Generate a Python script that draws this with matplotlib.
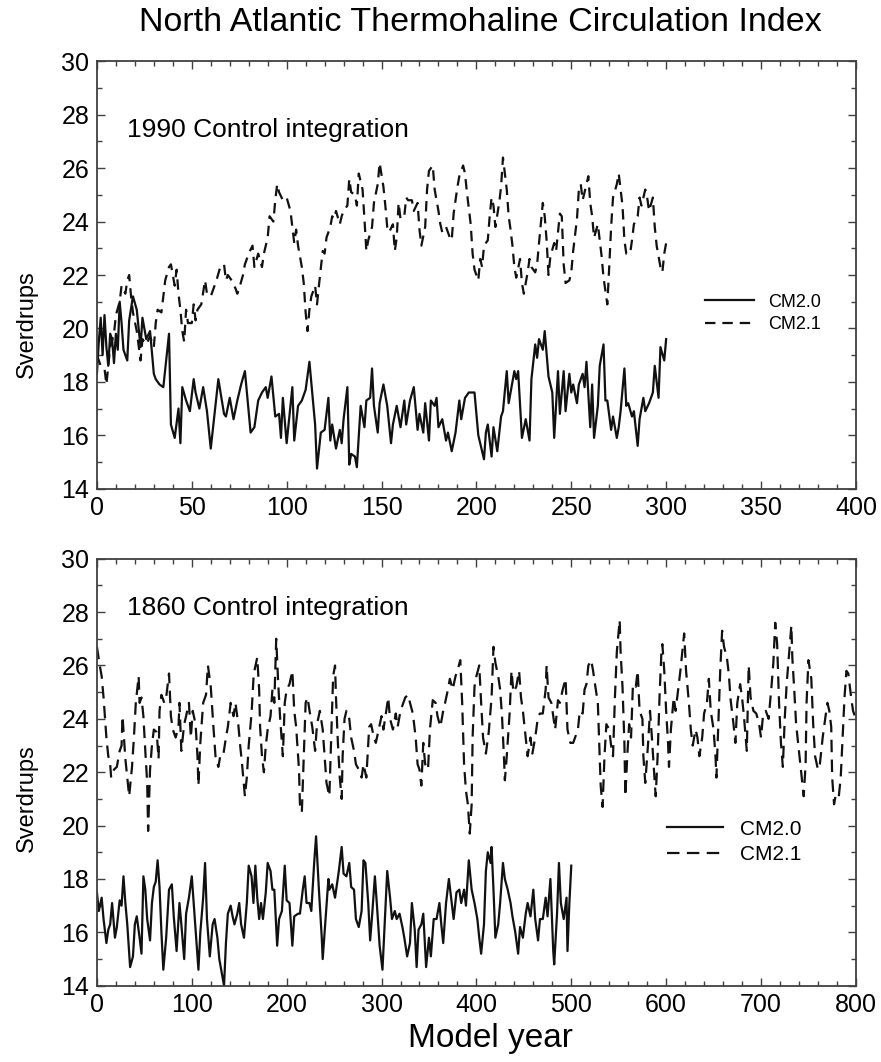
# North Atlantic thermohaline circulation index, two control runs (CM2.0 vs CM2.1)
import matplotlib

matplotlib.use("Agg")
import matplotlib.pyplot as plt
from matplotlib.ticker import MultipleLocator

plt.rcParams["font.family"] = ["Liberation Sans", "DejaVu Sans"]
plt.rcParams["lines.scale_dashes"] = False

# ---- 1990 control integration (upper panel) ----
years_1990_cm20 = [
    0, 1, 2, 3, 4, 5, 6, 7, 8, 9, 10, 11, 12, 13, 14, 15, 16, 17, 19, 21, 23, 24, 26, 28, 30,
    31, 33, 35, 38, 39, 41, 43, 44, 45, 47, 49, 51, 52, 54, 56, 58, 60, 64, 67, 68, 70, 72,
    74, 76, 78, 81, 83, 85, 87, 89, 90, 92, 94, 96, 97, 98, 100, 103, 104, 106, 108, 110,
    112, 114, 115, 116, 118, 120, 122, 123, 124, 126, 128, 129, 130, 132, 133, 134, 136,
    137, 139, 141, 142, 144, 145, 146, 148, 149, 151, 153, 155, 156, 158, 160, 162, 163,
    165, 167, 169, 170, 172, 173, 175, 176, 178, 179, 180, 182, 184, 185, 187, 189, 191,
    192, 194, 196, 199, 201, 202, 204, 205, 206, 208, 209, 211, 213, 214, 216, 217, 218,
    220, 221, 222, 224, 226, 228, 229, 231, 232, 233, 235, 236, 238, 240, 241, 243, 244,
    246, 247, 249, 250, 251, 253, 254, 256, 257, 258, 260, 261, 262, 264, 265, 267, 268,
    269, 271, 272, 274, 275, 276, 278, 279, 280, 282, 283, 285, 286, 288, 289, 291, 293,
    294, 296, 297, 299, 300,
]
sv_1990_cm20 = [
    18.3, 19.5, 20.4, 19.0, 20.5, 19.3, 18.6, 19.8, 19.6, 18.7, 19.8, 19.2, 21.0, 20.2, 19.2,
    19.0, 18.8, 20.3, 21.2, 20.7, 19.3, 20.4, 19.6, 19.9, 18.3, 18.1, 17.9, 17.8, 19.8, 16.4,
    15.9, 17.0, 15.7, 17.8, 17.3, 16.9, 18.1, 17.6, 17.0, 17.8, 16.9, 15.5, 18.1, 16.8, 16.7,
    17.4, 16.6, 17.3, 17.9, 18.4, 16.1, 16.3, 17.3, 17.6, 17.8, 17.4, 18.2, 16.7, 16.8, 15.9,
    17.4, 15.7, 17.8, 15.8, 17.1, 17.3, 17.7, 18.75, 17.2, 16.4, 14.75, 16.1, 16.2, 17.4,
    15.8, 16.4, 15.5, 16.2, 15.7, 16.6, 17.8, 14.9, 15.3, 15.2, 14.8, 17.1, 16.3, 17.3, 17.4,
    18.5, 17.1, 16.1, 17.2, 17.9, 17.1, 15.7, 16.4, 17.1, 16.3, 17.3, 16.4, 17.3, 17.8, 16.2,
    16.8, 16.1, 17.2, 15.8, 17.3, 17.1, 17.4, 16.3, 16.6, 15.8, 16.1, 15.4, 16.1, 17.3, 16.6,
    17.4, 17.6, 17.6, 16.0, 15.7, 15.1, 16.1, 16.4, 15.2, 16.3, 15.4, 16.7, 16.9, 18.4, 17.2,
    17.6, 18.4, 18.1, 18.4, 15.9, 16.6, 15.8, 18.1, 19.4, 18.9, 19.6, 19.2, 19.9, 18.2, 17.6,
    15.9, 18.4, 16.8, 18.4, 16.9, 18.3, 17.6, 17.9, 17.2, 17.9, 18.3, 17.8, 18.75, 16.3, 17.9,
    15.9, 17.1, 18.6, 19.4, 17.3, 17.3, 16.2, 16.7, 15.9, 16.3, 16.9, 18.5, 17.1, 17.2, 16.7,
    16.9, 15.6, 16.6, 17.4, 16.9, 17.2, 17.6, 18.6, 17.4, 19.3, 18.8, 19.6,
]

years_1990_cm21 = [
    0, 2, 4, 5, 7, 9, 10, 12, 13, 15, 16, 17, 18, 19, 21, 23, 24, 26, 28, 30, 31, 32, 34, 36,
    38, 39, 41, 42, 43, 44, 45, 46, 47, 48, 50, 51, 52, 53, 55, 57, 58, 60, 61, 63, 65, 67,
    68, 69, 71, 73, 74, 75, 77, 78, 80, 82, 83, 85, 87, 88, 90, 91, 93, 94, 95, 96, 98, 100,
    102, 103, 104, 105, 106, 108, 109, 110, 111, 112, 113, 115, 116, 117, 119, 120, 121,
    123, 124, 125, 126, 128, 129, 130, 132, 133, 134, 136, 137, 138, 140, 141, 142, 143,
    145, 146, 148, 149, 151, 152, 153, 154, 156, 157, 158, 159, 160, 162, 163, 164, 166,
    167, 169, 170, 171, 173, 174, 175, 177, 178, 180, 181, 182, 184, 186, 187, 188, 190,
    191, 193, 194, 195, 197, 198, 199, 201, 202, 203, 204, 206, 207, 208, 209, 210, 212,
    213, 214, 215, 216, 217, 218, 219, 220, 221, 223, 224, 225, 227, 228, 229, 231, 232,
    233, 235, 236, 237, 238, 239, 241, 242, 243, 244, 245, 246, 247, 249, 250, 251, 253,
    254, 255, 256, 257, 259, 260, 261, 262, 264, 265, 266, 267, 269, 270, 271, 272, 274,
    275, 276, 277, 278, 279, 281, 282, 283, 285, 286, 287, 289, 290, 291, 293, 294, 295,
    297, 298, 299, 300,
]
sv_1990_cm21 = [
    19.0, 18.6, 18.5, 17.9, 19.3, 19.8, 20.5, 21.0, 21.6, 21.3, 21.8, 22.0, 21.2, 20.6, 19.9,
    18.8, 19.6, 19.4, 19.7, 19.3, 20.2, 20.7, 20.6, 21.8, 22.3, 22.4, 21.6, 22.2, 21.3, 20.7,
    19.9, 19.5, 20.7, 20.2, 20.2, 20.9, 20.3, 20.7, 20.9, 21.8, 21.3, 21.2, 21.4, 21.8, 22.3,
    22.4, 21.8, 22.0, 21.8, 21.5, 21.3, 21.5, 22.0, 22.4, 22.8, 23.1, 22.3, 22.8, 22.3, 22.8,
    23.4, 24.2, 24.0, 24.8, 25.4, 25.1, 24.8, 24.9, 24.4, 23.8, 23.2, 23.7, 23.1, 22.3, 21.7,
    20.6, 19.9, 20.7, 21.2, 21.6, 20.9, 21.6, 22.9, 22.8, 23.4, 23.8, 24.2, 24.1, 24.4, 23.9,
    24.2, 24.4, 24.6, 25.6, 25.1, 25.0, 24.6, 25.8, 25.2, 24.1, 22.9, 23.3, 23.8, 24.7, 25.4,
    26.2, 25.3, 24.6, 23.8, 23.6, 23.9, 22.9, 23.4, 24.7, 24.1, 24.2, 24.9, 24.8, 24.8, 24.4,
    24.7, 23.7, 23.1, 23.8, 25.2, 25.9, 26.1, 25.2, 24.4, 23.9, 23.6, 23.8, 23.4, 23.3, 24.3,
    25.3, 25.7, 26.1, 25.8, 25.1, 23.9, 22.8, 22.2, 21.8, 22.6, 22.3, 23.1, 23.3, 24.2, 24.9,
    24.6, 23.8, 24.7, 25.3, 26.4, 25.8, 25.2, 24.2, 23.7, 23.1, 22.3, 21.9, 22.6, 21.7, 21.3,
    22.1, 22.6, 22.3, 22.1, 22.4, 23.2, 24.7, 24.2, 23.3, 22.0, 22.7, 23.2, 22.9, 23.6, 24.3,
    24.2, 22.4, 21.7, 21.8, 22.1, 22.9, 24.1, 25.2, 25.4, 24.8, 25.1, 25.7, 24.7, 24.2, 23.4,
    23.9, 23.3, 22.7, 21.9, 20.9, 22.3, 23.8, 24.9, 25.4, 25.8, 25.2, 24.6, 23.3, 22.8, 22.8,
    23.3, 23.9, 24.2, 24.9, 24.6, 25.2, 24.9, 24.4, 24.9, 23.8, 23.1, 22.3, 22.1, 22.8, 23.2,
]

# ---- 1860 control integration (lower panel) ----
years_1860_cm20 = [
    0, 2, 5, 7, 10, 12, 14, 16, 19, 21, 24, 26, 28, 30, 32, 35, 38, 40, 42, 45, 47, 49, 51,
    53, 56, 58, 60, 62, 64, 66, 68, 70, 73, 76, 79, 81, 84, 87, 89, 92, 94, 97, 100, 102,
    104, 107, 109, 112, 114, 116, 119, 122, 124, 127, 129, 131, 134, 136, 138, 141, 143,
    145, 148, 150, 152, 155, 158, 160, 163, 165, 167, 169, 171, 173, 175, 178, 180, 183,
    185, 187, 190, 192, 195, 198, 200, 203, 206, 208, 212, 214, 217, 219, 221, 224, 226,
    229, 231, 234, 237, 238, 241, 244, 245, 248, 251, 253, 255, 258, 260, 263, 266, 268,
    271, 273, 276, 279, 281, 283, 286, 288, 290, 293, 295, 298, 301, 303, 306, 309, 311,
    314, 316, 319, 322, 324, 327, 330, 332, 335, 337, 339, 342, 344, 347, 350, 352, 355,
    358, 361, 363, 365, 368, 371, 374, 376, 379, 382, 384, 387, 389, 392, 395, 398, 401,
    403, 405, 408, 410, 412, 415, 416, 418, 420, 423, 425, 428, 430, 433, 436, 438, 441,
    444, 446, 449, 452, 454, 457, 460, 462, 465, 467, 470, 473, 475, 478, 481, 482, 485,
    487, 489, 492, 495, 496, 498, 500,
]
sv_1860_cm20 = [
    17.5, 16.8, 17.3, 16.5, 15.6, 16.1, 16.3, 17.1, 15.8, 16.2, 17.2, 17.0, 18.1, 17.1, 16.3,
    14.7, 15.1, 16.3, 16.6, 15.8, 15.2, 18.1, 17.6, 16.5, 15.7, 17.1, 17.7, 17.9, 18.7, 17.7,
    16.0, 14.6, 15.8, 17.6, 17.8, 16.6, 15.3, 17.1, 16.3, 15.0, 16.7, 17.3, 18.1, 17.1, 16.1,
    14.6, 16.0, 17.3, 18.6, 16.5, 15.1, 16.3, 16.5, 15.8, 15.0, 14.6, 14.0, 15.6, 16.7, 17.0,
    16.6, 16.3, 16.7, 17.1, 16.3, 15.8, 17.1, 18.5, 18.1, 17.1, 18.5, 17.3, 16.5, 17.1, 16.5,
    17.5, 18.6, 18.3, 17.6, 17.6, 15.5, 16.5, 16.8, 18.5, 17.2, 17.1, 15.5, 16.6, 16.7, 16.7,
    17.6, 18.1, 17.1, 17.1, 16.8, 18.6, 19.6, 17.6, 15.8, 15.0, 16.5, 18.0, 17.6, 17.8, 17.3,
    17.8, 18.3, 19.2, 18.2, 18.1, 18.6, 17.7, 17.6, 16.5, 16.2, 16.8, 18.7, 18.6, 17.1, 15.7,
    16.6, 18.1, 17.1, 15.5, 14.6, 16.1, 18.3, 17.3, 16.5, 16.8, 16.5, 16.7, 16.2, 15.8, 15.1,
    15.6, 17.1, 16.1, 14.7, 16.1, 16.3, 16.7, 14.7, 15.8, 15.1, 16.5, 16.5, 17.1, 16.3, 15.6,
    17.1, 18.0, 17.1, 16.5, 17.5, 17.6, 17.1, 17.6, 17.0, 18.7, 17.6, 17.1, 16.5, 15.8, 15.2,
    16.3, 18.3, 19.0, 18.6, 19.2, 17.6, 15.8, 16.3, 17.1, 18.6, 18.0, 17.6, 17.1, 16.6, 16.0,
    15.2, 16.2, 15.8, 16.7, 17.1, 16.6, 17.6, 16.5, 15.7, 16.5, 16.5, 17.3, 16.6, 18.0, 15.3,
    14.8, 16.7, 18.6, 17.1, 16.5, 17.3, 15.3, 17.1, 18.5,
]

years_1860_cm21 = [
    0, 3, 5, 7, 8, 10, 12, 14, 15, 18, 21, 24, 26, 27, 30, 32, 34, 37, 39, 41, 44, 45, 47,
    49, 51, 53, 54, 56, 58, 60, 63, 65, 66, 68, 71, 73, 76, 78, 80, 83, 86, 87, 89, 92, 94,
    97, 99, 101, 104, 106, 107, 109, 112, 115, 117, 120, 123, 125, 128, 130, 133, 136, 138,
    141, 144, 146, 149, 151, 153, 156, 158, 160, 163, 165, 166, 169, 171, 172, 174, 176,
    178, 180, 183, 185, 187, 189, 191, 193, 196, 198, 200, 203, 206, 208, 210, 213, 214,
    216, 218, 220, 222, 225, 227, 230, 232, 235, 238, 240, 242, 245, 247, 249, 251, 252,
    254, 256, 258, 259, 261, 263, 266, 268, 271, 273, 276, 279, 281, 284, 287, 289, 292,
    294, 297, 300, 302, 305, 307, 309, 312, 315, 317, 320, 323, 325, 328, 330, 333, 336,
    338, 340, 342, 344, 346, 349, 351, 354, 357, 359, 362, 365, 367, 370, 372, 375, 378,
    380, 383, 385, 387, 389, 391, 393, 395, 396, 398, 400, 403, 405, 407, 410, 413, 416,
    418, 420, 423, 425, 427, 429, 430, 432, 435, 437, 439, 442, 445, 447, 449, 452, 454,
    457, 459, 462, 465, 467, 470, 473, 474, 476, 479, 481, 483, 486, 488, 491, 494, 496,
    499, 502, 504, 507, 509, 512, 514, 516, 518, 521, 523, 525, 528, 530, 531, 533, 535,
    537, 540, 542, 544, 546, 548, 551, 552, 554, 556, 557, 559, 561, 563, 565, 568, 570,
    572, 575, 576, 578, 581, 583, 585, 588, 589, 591, 593, 595, 596, 598, 600, 602, 603,
    605, 608, 610, 612, 615, 617, 619, 621, 624, 626, 628, 631, 633, 635, 638, 640, 643,
    645, 647, 650, 652, 653, 655, 657, 659, 661, 664, 666, 668, 671, 673, 675, 678, 680,
    682, 685, 687, 689, 692, 695, 698, 700, 702, 705, 708, 711, 713, 715, 717, 719, 721,
    723, 725, 727, 730, 732, 733, 735, 737, 740, 742, 745, 747, 748, 750, 753, 755, 757,
    760, 762, 765, 768, 770, 772, 774, 775, 777, 779, 782, 784, 786, 788, 790, 792, 795,
    797, 800,
]
sv_1860_cm21 = [
    26.7, 26.0, 25.6, 24.8, 24.3, 23.3, 22.6, 22.3, 21.8, 22.1, 22.2, 22.8, 23.0, 24.1, 22.5,
    21.8, 21.1, 22.2, 23.3, 24.6, 25.6, 24.6, 24.8, 24.1, 22.8, 21.6, 19.8, 22.1, 23.0, 23.6,
    23.5, 22.5, 24.3, 24.9, 24.6, 24.8, 25.7, 24.1, 23.6, 23.3, 23.7, 24.6, 22.8, 23.8, 24.1,
    24.6, 23.3, 24.3, 23.8, 22.6, 21.5, 23.1, 24.6, 24.9, 26.0, 25.2, 23.6, 22.6, 22.2, 22.6,
    22.6, 23.3, 23.7, 24.6, 24.1, 24.6, 23.8, 23.0, 22.3, 21.1, 21.8, 23.0, 24.2, 25.5, 25.8,
    26.3, 25.1, 23.7, 22.6, 22.0, 23.0, 23.6, 24.1, 25.1, 24.6, 27.0, 25.4, 24.1, 22.6, 24.6,
    25.1, 25.3, 25.8, 24.3, 23.7, 22.1, 20.8, 20.5, 22.6, 24.6, 24.8, 24.1, 23.7, 22.8, 23.8,
    24.3, 23.6, 22.6, 21.6, 21.1, 23.3, 25.6, 26.0, 24.8, 23.1, 21.8, 21.0, 22.6, 24.0, 24.3,
    24.0, 23.3, 22.8, 22.3, 22.1, 21.8, 22.3, 21.8, 23.7, 23.8, 23.3, 23.1, 23.6, 24.1, 23.6,
    24.3, 24.8, 24.0, 23.6, 24.2, 23.7, 24.3, 24.6, 24.8, 24.9, 24.6, 24.2, 23.3, 22.3, 22.1,
    21.5, 23.1, 22.3, 22.1, 23.6, 24.7, 24.6, 24.1, 23.7, 24.3, 24.6, 25.1, 25.5, 25.1, 25.6,
    25.8, 26.2, 24.6, 22.3, 21.3, 20.8, 19.7, 20.8, 23.3, 25.2, 25.6, 26.0, 24.6, 23.3, 22.7,
    23.5, 24.8, 26.7, 26.1, 25.6, 25.1, 24.1, 22.6, 21.7, 22.6, 24.2, 25.8, 25.0, 25.2, 25.8,
    24.8, 24.3, 23.3, 22.6, 23.3, 22.7, 23.3, 24.1, 24.2, 24.2, 25.1, 26.0, 24.8, 24.6, 24.1,
    23.6, 24.7, 24.6, 25.1, 25.5, 23.6, 23.1, 23.1, 23.3, 23.6, 24.3, 24.2, 25.1, 25.3, 26.0,
    26.2, 25.8, 25.3, 24.6, 22.6, 21.5, 20.7, 22.6, 23.8, 23.6, 23.0, 22.6, 24.8, 26.5, 27.7,
    26.5, 25.2, 23.1, 21.1, 22.6, 23.8, 23.3, 25.3, 25.2, 25.8, 24.3, 24.0, 22.6, 21.6, 23.1,
    24.3, 23.3, 21.6, 21.1, 22.6, 24.8, 26.5, 26.8, 25.8, 24.3, 23.1, 22.2, 23.6, 24.8, 24.3,
    24.9, 25.8, 26.5, 27.2, 25.8, 24.6, 23.6, 23.0, 23.6, 23.3, 22.6, 23.3, 24.2, 24.6, 25.5,
    24.3, 23.6, 22.6, 21.8, 23.8, 25.8, 27.3, 26.7, 26.3, 25.7, 24.7, 23.8, 23.1, 24.6, 25.3,
    24.8, 24.1, 22.8, 26.0, 24.8, 24.3, 24.2, 23.8, 23.3, 24.1, 24.3, 24.0, 25.2, 26.1, 27.6,
    26.8, 24.6, 23.1, 22.2, 24.0, 25.3, 26.6, 27.5, 26.3, 25.1, 23.8, 22.8, 22.1, 21.1, 22.3,
    24.6, 26.2, 25.5, 23.8, 22.6, 22.1, 22.3, 23.3, 24.1, 24.6, 24.3, 23.7, 21.8, 20.8, 21.2,
    21.1, 21.8, 23.3, 24.8, 25.8, 25.7, 24.8, 24.3, 24.0,
]

series_labels = ["CM2.0", "CM2.1"]
panel_notes = ["1990 Control integration", "1860 Control integration"]

INK = "#111111"
SPINE = "#404040"


def style_axes(ax, x_major, x_minor, x_max, label_y):
    ax.set_xlim(0, x_max)
    ax.set_ylim(14, 30)
    ax.xaxis.set_major_locator(MultipleLocator(x_major))
    ax.xaxis.set_minor_locator(MultipleLocator(x_minor))
    ax.yaxis.set_major_locator(MultipleLocator(2))
    ax.yaxis.set_minor_locator(MultipleLocator(1))
    ax.tick_params(which="both", direction="in", top=True, right=True, color=SPINE, width=1.0)
    ax.tick_params(which="major", length=6, labelsize=18, pad=5.5)
    ax.tick_params(which="minor", length=3.5)
    for spine in ax.spines.values():
        spine.set_color(SPINE)
        spine.set_linewidth(1.3)
    ax.set_ylabel("Sverdrups", fontsize=17)
    ax.yaxis.set_label_coords(-0.078, label_y)


def draw_panel(ax, x20, y20, x21, y21, note, dash, legend_xy, legend_size):
    ax.plot(x20, y20, color=INK, linewidth=1.6, label=series_labels[0])
    ax.plot(x21, y21, color=INK, linewidth=1.6, linestyle=(0, dash), label=series_labels[1])
    ax.text(0.0395, note[1], note[0], transform=ax.transAxes, fontsize=19, va="center", ha="left")
    ax.legend(
        loc="center left",
        bbox_to_anchor=legend_xy,
        frameon=False,
        fontsize=legend_size,
        handlelength=2.7,
        handletextpad=0.8,
        labelspacing=0.3,
        borderpad=0,
        borderaxespad=0,
    )


fig = plt.figure(figsize=(8.81, 10.62), dpi=100)
fig.patch.set_facecolor("white")

ax_top = fig.add_axes([0.110, 0.5399, 0.8615, 0.4023])
ax_bot = fig.add_axes([0.110, 0.0718, 0.8615, 0.4021])

style_axes(ax_top, 50, 10, 400, 0.385)
style_axes(ax_bot, 100, 20, 800, 0.44)

draw_panel(ax_top, years_1990_cm20, sv_1990_cm20, years_1990_cm21, sv_1990_cm21,
           (panel_notes[0], 0.839), (7.5, 5), (0.801, 0.41), 13)
draw_panel(ax_bot, years_1860_cm20, sv_1860_cm20, years_1860_cm21, sv_1860_cm21,
           (panel_notes[1], 0.885), (9, 5.3), (0.7506, 0.337), 15)

ax_bot.set_xlabel("Model year", fontsize=24)
ax_bot.xaxis.set_label_coords(0.518, -0.087)

fig.suptitle("North Atlantic Thermohaline Circulation Index", fontsize=24.5, x=0.545, y=0.979, va="center")

fig.savefig("out.png", dpi=100, facecolor=fig.get_facecolor())
plt.close(fig)
